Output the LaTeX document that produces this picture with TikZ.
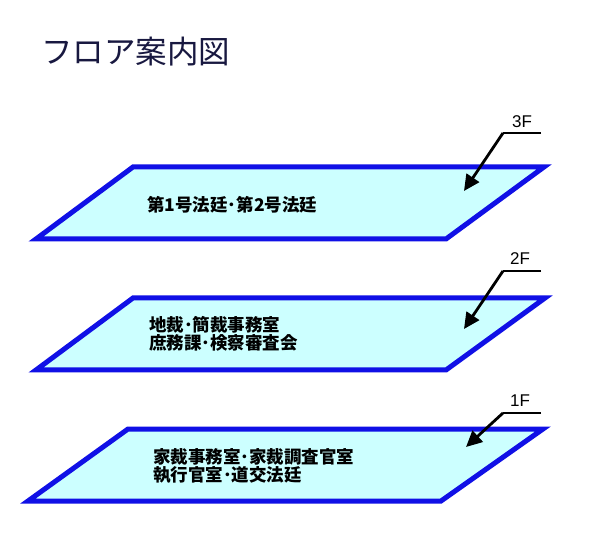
\documentclass[tikz,border=0pt]{standalone}
\usepackage{fontspec}
\newfontfamily\cjk{Noto Sans CJK JP}
\newfontfamily\lblfont{Liberation Sans}
\usetikzlibrary{arrows.meta}
\definecolor{floorblue}{RGB}{16,16,230}
\definecolor{floorfill}{RGB}{204,255,255}
\definecolor{titlenavy}{RGB}{24,24,64}
\tikzset{
  floor/.style={draw=floorblue,line width=5pt,fill=floorfill,line join=miter},
  room/.style={font=\cjk\bfseries\fontsize{17.5}{18}\selectfont,align=left,anchor=west,inner sep=0pt},
  flabel/.style={font=\lblfont\fontsize{17}{18}\selectfont,inner sep=0pt},
  leader/.style={line width=2.8pt,line cap=butt},
  pointer/.style={leader,-{Triangle[length=16pt,width=15pt]}}
}
\begin{document}
\begin{tikzpicture}[x=1pt,y=-1pt]
\useasboundingbox[fill=white] (0,0) rectangle (600,545);
\node[font=\cjk\fontsize{31.5}{34}\selectfont,text=titlenavy,anchor=west,inner sep=0pt] (title) at (41,52) {フロア案内図};

\draw[floor] (133,167) -- (544,167) -- (446,239) -- (36,239) -- cycle;
\node[room] (r3) at (147,205) {第1号法廷･第2号法廷};
\node[flabel] (l3) at (522,122) {3F};
\coordinate (k3) at (503,133);
\coordinate (e3) at (541,133);
\coordinate (t3) at (464,191);
\draw[leader] (e3) -- (k3);
\draw[pointer] (k3) -- (t3);

\draw[floor] (133,298) -- (545,298) -- (446,370) -- (36,370) -- cycle;
\node[room] (r2) at (149,334) {地裁･簡裁事務室\\庶務課･検察審査会};
\node[flabel] (l2) at (520,259) {2F};
\coordinate (k2) at (503,271);
\coordinate (e2) at (541,271);
\coordinate (t2) at (464,329);
\draw[leader] (e2) -- (k2);
\draw[pointer] (k2) -- (t2);

\draw[floor] (128,429) -- (543,429) -- (441,501) -- (28,501) -- cycle;
\node[room] (r1) at (153,466) {家裁事務室･家裁調査官室\\執行官室･道交法廷};
\node[flabel] (l1) at (520,401) {1F};
\coordinate (k1) at (503,413);
\coordinate (e1) at (541,413);
\coordinate (t1) at (466,447);
\draw[leader] (e1) -- (k1);
\draw[pointer] (k1) -- (t1);
\end{tikzpicture}
\end{document}
